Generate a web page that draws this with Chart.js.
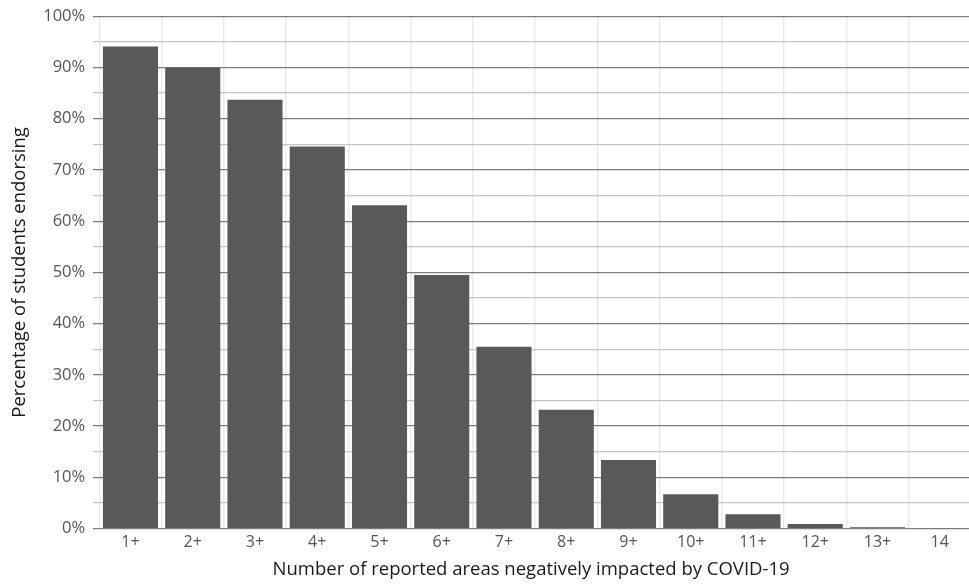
<!DOCTYPE html>
<html>
<head>
<meta charset="utf-8">
<script src="https://cdn.jsdelivr.net/npm/chart.js@4"></script>
<style>
    html, body { margin: 0; padding: 0; background: #fff; overflow: hidden; }
    #wrap { width: 969px; height: 585px; }
</style>
</head>
<body>
<div id="wrap"><canvas id="barChart"></canvas></div>
<script>
// data
const categories = ['1+', '2+', '3+', '4+', '5+', '6+', '7+', '8+', '9+', '10+', '11+', '12+', '13+', '14'];
const positions = [1, 2, 3, 4, 5, 6, 7, 8, 9, 10, 11, 12, 13, 14];
const percentages = [94.1, 90.0, 83.7, 74.6, 63.1, 49.5, 35.5, 23.2, 13.4, 6.7, 2.8, 0.9, 0.25, 0.05];
const yTicks = [0, 10, 20, 30, 40, 50, 60, 70, 80, 90, 100];

const fontFamily = '"Open Sans", Lato, sans-serif';

new Chart(document.getElementById('barChart'), {
    type: 'bar',
    data: {
        datasets: [{
            data: positions.map((p, i) => ({ x: p, y: percentages[i] })),
            backgroundColor: '#595959',
            borderWidth: 0,
            categoryPercentage: 1,
            barPercentage: 0.885
        }]
    },
    options: {
        responsive: true,
        maintainAspectRatio: false,
        animation: false,
        layout: {
            padding: { top: 1, right: 0, left: 9, bottom: 4 }
        },
        scales: {
            x: {
                type: 'linear',
                offset: false,
                min: 0.4,
                max: 14.47,
                grid: {
                    color: '#ebebeb',
                    lineWidth: 1.5,
                    drawTicks: false
                },
                border: { display: false },
                ticks: {
                    stepSize: 1,
                    includeBounds: false,
                    autoSkip: false,
                    maxRotation: 0,
                    padding: 4,
                    color: '#555',
                    font: { family: fontFamily, size: 16 },
                    callback: value => categories[positions.indexOf(value)] ?? ''
                },
                title: {
                    display: true,
                    text: 'Number of reported areas negatively impacted by COVID-19',
                    color: '#1a1a1a',
                    font: { family: fontFamily, size: 18.5 },
                    padding: { top: 3, bottom: 0 }
                }
            },
            y: {
                min: 0,
                max: 100,
                grid: {
                    color: ctx => (ctx.tick && ctx.tick.value % 10 === 0) ? '#7d7d7d' : '#c4c4c4',
                    lineWidth: 1.3,
                    drawTicks: false
                },
                border: { display: false },
                afterBuildTicks: axis => {
                    const ticks = [];
                    yTicks.forEach(t => {
                        ticks.push({ value: t });
                        if (t < 100) ticks.push({ value: t + 5 });
                    });
                    axis.ticks = ticks;
                },
                ticks: {
                    autoSkip: false,
                    padding: 8,
                    color: '#555',
                    font: { family: fontFamily, size: 16.5, lineHeight: 1 },
                    callback: value => yTicks.includes(value) ? value + '%' : ''
                },
                title: {
                    display: true,
                    text: 'Percentage of students endorsing',
                    color: '#1a1a1a',
                    font: { family: fontFamily, size: 18.5 },
                    padding: { top: 0, bottom: 4 }
                }
            }
        },
        plugins: {
            legend: { display: false },
            tooltip: { enabled: false }
        }
    }
});
</script>
</body>
</html>
